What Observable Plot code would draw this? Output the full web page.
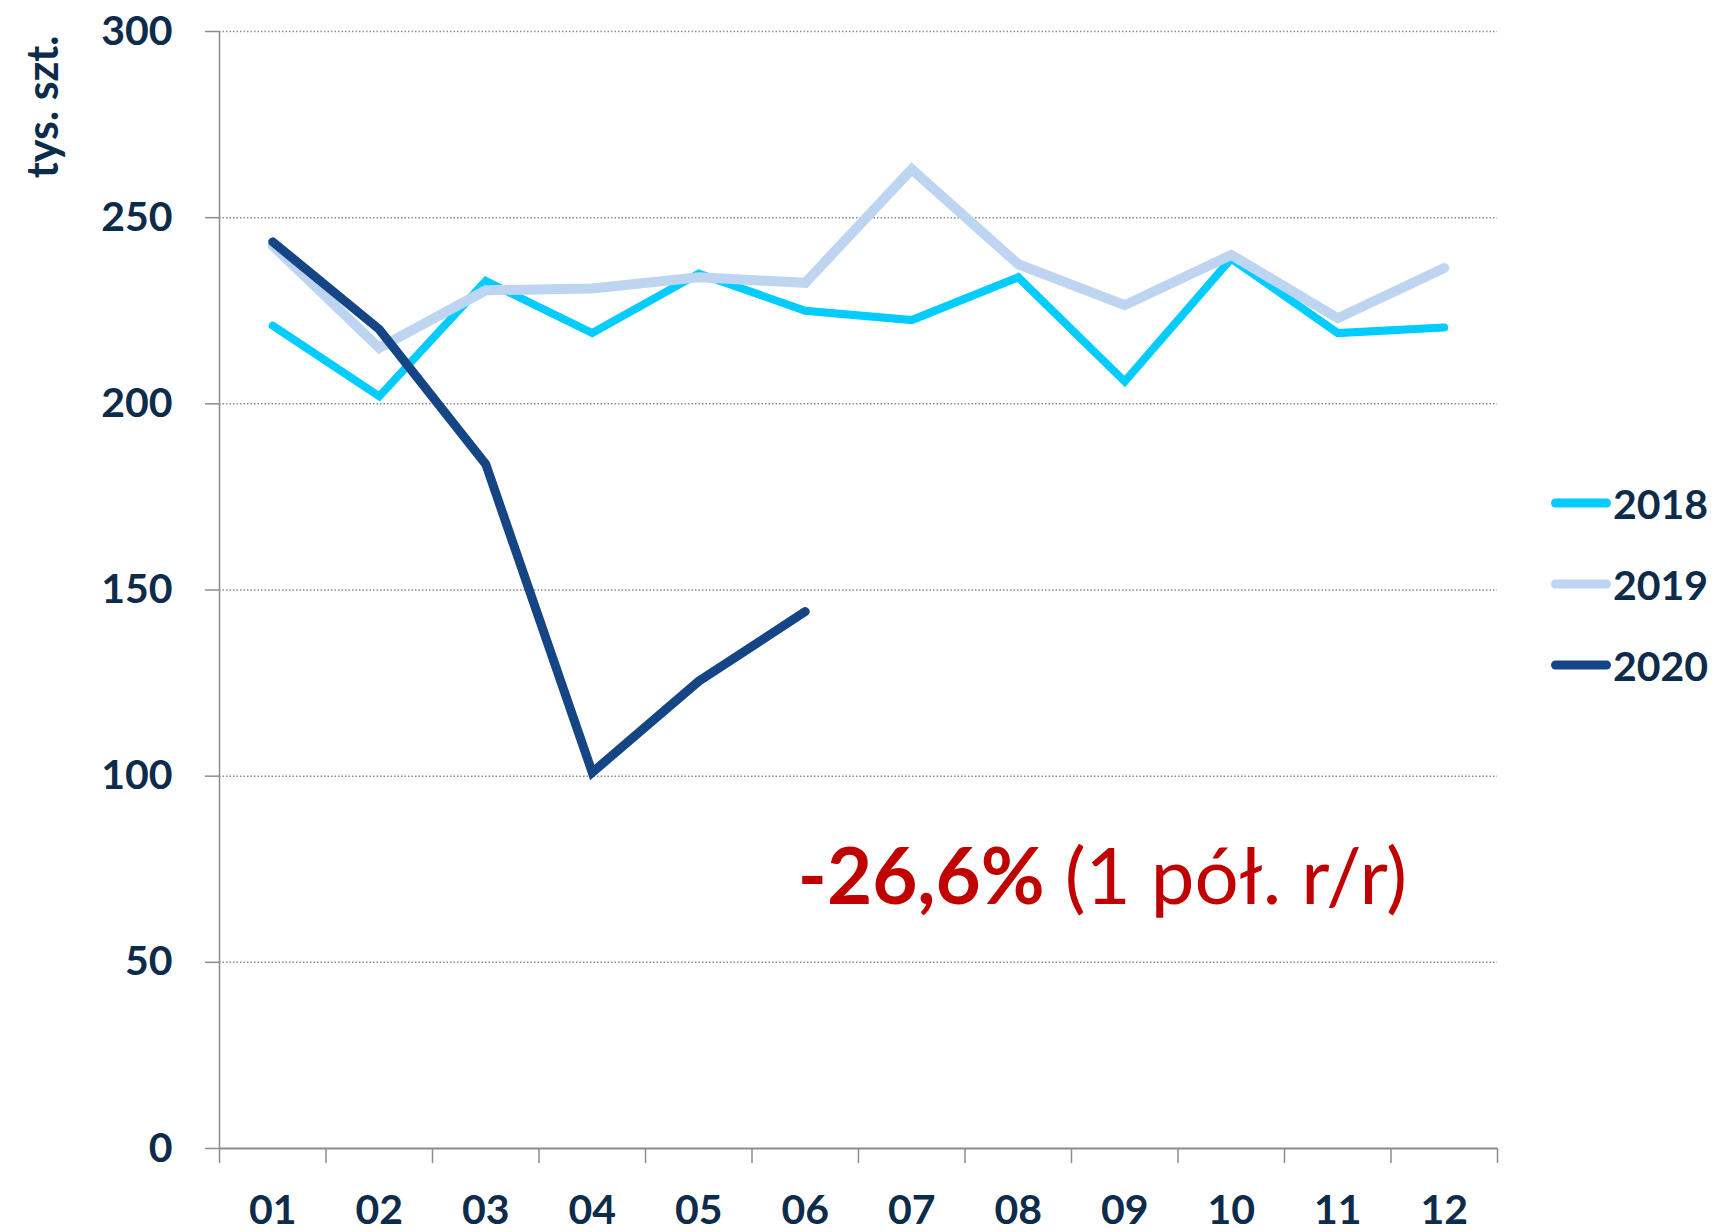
<!DOCTYPE html>
<html>
<head>
<meta charset="utf-8">
<script src="https://cdn.jsdelivr.net/npm/d3@7"></script>
<script src="https://cdn.jsdelivr.net/npm/@observablehq/plot@0.6"></script>
<style>
  html, body { margin: 0; padding: 0; background: #fff; }
  #wrap { position: relative; width: 1719px; height: 1232px; font-family: Lato, "Open Sans", sans-serif; }
  #legend { position: absolute; left: 1551px; top: 0; }
  .row { position: absolute; left: 0; display: flex; align-items: center; white-space: nowrap; transform: translateY(-50%); }
  .sw { width: 60px; height: 9px; border-radius: 4.5px; margin-right: 2px; }
  .lab { font-size: 41px; font-weight: 700; color: #0d2b4a; line-height: 1; }
</style>
</head>
<body>
<div id="wrap"><div id="legend"></div></div>
<script>
const months = ["01","02","03","04","05","06","07","08","09","10","11","12"];
const s2018 = [221, 202, 233, 219, 235, 225, 222.5, 234, 206, 239, 219, 220.5];
const s2019 = [242.5, 215, 230.5, 231, 234, 232.5, 263, 237.5, 226.5, 240, 223, 236.5];
const s2020 = [243.5, 220, 183.8, 101, 125.5, 144.2];
const seriesNames = ["2018", "2019", "2020"];
const seriesColors = ["#00CCFF", "#BDD5F0", "#154585"];
const seriesWidths = [8, 10, 9];
const yTicks = [0, 50, 100, 150, 200, 250, 300];
const yLabel = "tys. szt.";
const annotBold = "-26,6%";
const annotRest = " (1 pół. r/r)";
const annotPos = {x: 5.43, y: 72.5};

const textColor = "#0d2b4a";
const axisGray = "#8c8c8c";

const allSeries = [s2018, s2019, s2020];
const rows = allSeries.flatMap((vals, si) =>
  vals.map((v, i) => ({series: seriesNames[si], xi: i + 0.5, value: v})));

const lineMarks = seriesNames.map((name, si) =>
  Plot.line(rows.filter(r => r.series === name), {
    x: "xi", y: "value",
    stroke: seriesColors[si], strokeWidth: seriesWidths[si],
    strokeLinejoin: "miter", strokeLinecap: "round", strokeMiterlimit: 4
  }));

const chart = Plot.plot({
  width: 1719, height: 1232,
  marginLeft: 219, marginRight: 222, marginTop: 31, marginBottom: 84,
  x: {domain: [0, 12], axis: null},
  y: {domain: [0, 300], axis: null},
  style: {fontFamily: "Lato, 'Open Sans', sans-serif", background: "#fff", color: textColor},
  marks: [
    Plot.gridY(yTicks.filter(d => d > 0), {stroke: "#8a8a8a", strokeOpacity: 1, strokeWidth: 1.5, strokeDasharray: "1.5,2"}),
    Plot.ruleX([0], {stroke: axisGray, strokeWidth: 1.5}),
    Plot.ruleY([0], {stroke: axisGray, strokeWidth: 2}),
    Plot.axisY(yTicks, {anchor: "left", tickSize: 14, tickPadding: 33, stroke: axisGray, strokeWidth: 1.5,
      fill: textColor, fontSize: 41, fontWeight: "bold", label: null}),
    Plot.axisX(d3.range(0, 13), {anchor: "bottom", tickSize: 15, stroke: axisGray, strokeWidth: 1.5,
      tickFormat: () => "", label: null}),
    Plot.axisX(d3.range(0.5, 12), {anchor: "bottom", tickSize: 0, tickPadding: 46,
      tickFormat: d => months[Math.floor(d)], fill: textColor, fontSize: 41, fontWeight: "bold", label: null}),
    Plot.text([yLabel], {frameAnchor: "top-left", text: d => d, rotate: -90, textAnchor: "end",
      dx: -192, dy: 4, fontSize: 43, fontWeight: "bold", fill: textColor}),
    ...lineMarks,
    Plot.text([annotPos], {x: "x", y: "y", text: () => annotBold + annotRest, textAnchor: "start",
      fontSize: 78, fill: "#C00000"})
  ]
});

// split annotation into bold + regular tspans
chart.querySelectorAll("text").forEach(t => {
  if (t.textContent === annotBold + annotRest) {
    t.textContent = "";
    const b = document.createElementNS("http://www.w3.org/2000/svg", "tspan");
    b.setAttribute("font-weight", "bold");
    b.textContent = annotBold;
    const r = document.createElementNS("http://www.w3.org/2000/svg", "tspan");
    r.setAttribute("font-weight", "normal");
    r.textContent = annotRest;
    t.appendChild(b); t.appendChild(r);
  }
});

document.getElementById("wrap").prepend(chart);

const legendTops = [503, 584, 665];
const legend = d3.select("#legend");
seriesNames.forEach((name, i) => {
  const row = legend.append("div").attr("class", "row").style("top", legendTops[i] + "px");
  row.append("div").attr("class", "sw").style("background", seriesColors[i]);
  row.append("div").attr("class", "lab").text(name);
});
</script>
</body>
</html>
